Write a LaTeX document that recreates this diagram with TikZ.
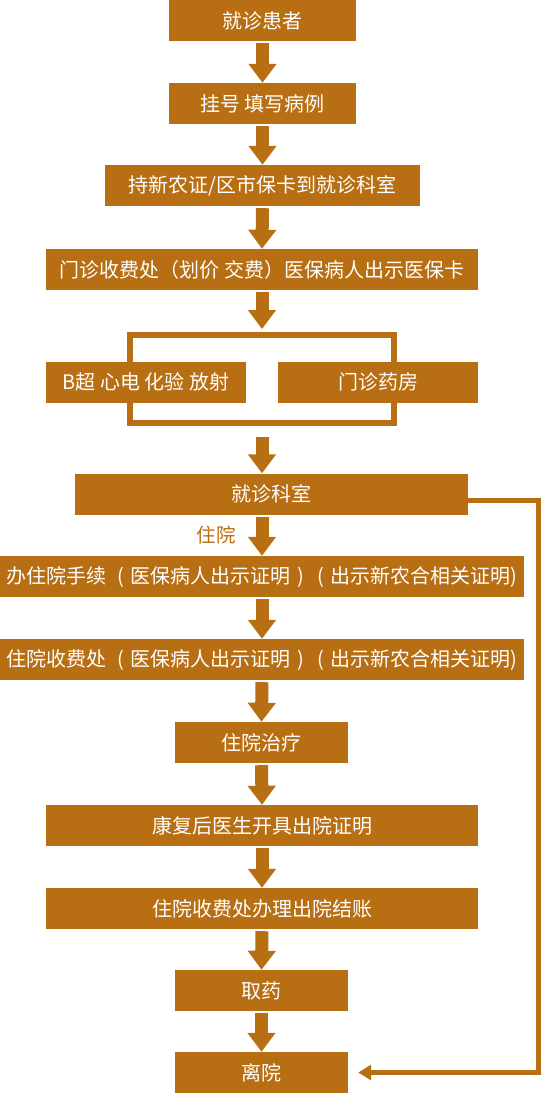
\documentclass[tikz,border=0pt]{standalone}
\usepackage{fontspec}
\setmainfont{Noto Sans CJK SC}
\usetikzlibrary{arrows.meta, positioning}
\definecolor{boxbrown}{RGB}{184,110,18}
% centred brackets, one em wide
\newcommand{\cnlp}{\makebox[1em]{(}}
\newcommand{\cnrp}{\makebox[1em]{)}}

\begin{document}
\begin{tikzpicture}[x=1pt, y=-1pt,
    box/.style={fill=boxbrown, text=white, inner sep=0pt, minimum height=41pt, font=\fontsize{20}{24}\selectfont},
    flow/.style={draw=boxbrown, line width=13pt, -{Triangle[width=27pt,length=19pt]}, shorten <=2pt},
    back/.style={draw=boxbrown, line width=5pt, -{Triangle[width=15pt,length=13pt]}}]

    \useasboundingbox (0,0) rectangle (544,1094);

    % Frame round the two parallel steps
    \node[draw=boxbrown, line width=6pt, minimum width=264pt, minimum height=88pt, inner sep=0pt] (frame) at (262,379) {};

    % Define the steps
    \node[box, minimum width=187pt] (patient) at (262.5,20.5) {就诊患者};
    \node[box, minimum width=187pt] (register) at (262.5,103.5) {挂号 填写病例};
    \node[box, minimum width=315pt] (card) at (262.5,185.5) {持新农证/区市保卡到就诊科室};
    \node[box, minimum width=432pt] (fee) at (262,269.5) {门诊收费处（划价 交费）医保病人出示医保卡};
    \node[box, minimum width=200pt] (exam) at (146,382) {B超 心电 化验 放射};
    \node[box, minimum width=200pt] (pharmacy) at (378,382) {门诊药房};
    \node[box, minimum width=393pt] (clinic) at (271.5,494) {就诊科室};
    \node[box, minimum width=524pt] (admit) at (262,576.5) {办住院手续 \cnlp 医保病人出示证明\cnrp\cnlp 出示新农合相关证明)};
    \node[box, minimum width=524pt] (hosfee) at (262,659.5) {住院收费处 \cnlp 医保病人出示证明\cnrp\cnlp 出示新农合相关证明)};
    \node[box, minimum width=173pt] (treat) at (261.5,742.5) {住院治疗};
    \node[box, minimum width=432pt] (cert) at (262,825.5) {康复后医生开具出院证明};
    \node[box, minimum width=432pt] (settle) at (262,908.5) {住院收费处办理出院结账};
    \node[box, minimum width=173pt] (drug) at (261.5,990.5) {取药};
    \node[box, minimum width=173pt] (leave) at (261.5,1072.5) {离院};

    % Draw the arrows
    \draw[flow] (patient.south) -- (register.north);
    \draw[flow] (register.south) -- (card.north);
    \draw[flow] (card.south) -- (fee.north);
    \draw[flow, shorten >=3pt] (fee.south) -- (frame.north);
    \draw[flow, shorten <=11pt] (frame.south) -- (clinic.north -| frame.south);
    \draw[flow] (admit.north |- clinic.south) -- (admit.north)
        node[midway, left=20pt, inner sep=0pt, text=boxbrown, font=\fontsize{19.5}{23}\selectfont] {住院};
    \draw[flow] (admit.south) -- (hosfee.north);
    \draw[flow] (hosfee.south) -- (treat.north);
    \draw[flow] (treat.south) -- (cert.north);
    \draw[flow] (cert.south) -- (settle.north);
    \draw[flow] (settle.south) -- (drug.north);
    \draw[flow] (drug.south) -- (leave.north);

    % Side connector to the last step
    \draw[back, shorten >=10pt] ([yshift=-6pt]clinic.east) -- ++(70,0) |- (leave.east);
\end{tikzpicture}
\end{document}
